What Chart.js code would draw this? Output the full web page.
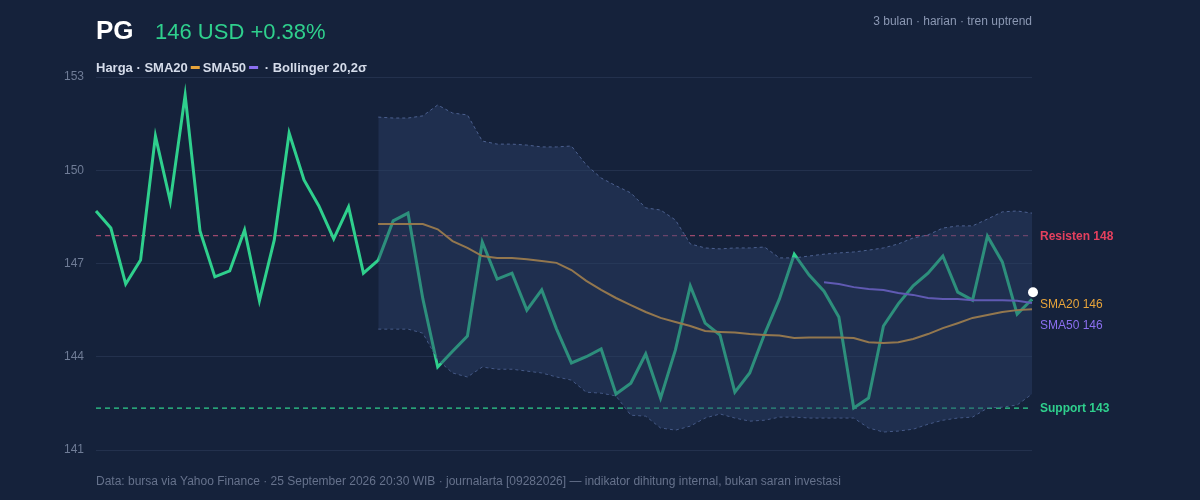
<!DOCTYPE html>
<html><head><meta charset="utf-8">
<script src="https://cdn.jsdelivr.net/npm/chart.js@4/dist/chart.umd.min.js"></script>
<style>
html,body{margin:0;background:#15223b;}
#wrap{position:relative;width:1200px;height:500px;}
</style></head>
<body><div id="wrap"><canvas id="c" width="1200" height="500"></canvas></div>
<script>
const harga = [148.69,148.14,146.34,147.11,151.1,149.0,152.42,148.05,146.57,146.76,148.08,145.8,147.76,151.2,149.69,148.85,147.79,148.82,146.69,147.11,
  148.37,148.62,145.86,143.67,144.18,144.67,147.69,146.5,146.69,145.5,146.15,144.89,143.8,144.0,144.25,142.8,143.15,144.09,142.67,144.22,
  146.28,145.08,144.7,142.86,143.48,144.73,145.86,147.3,146.63,146.11,145.28,142.35,142.67,144.99,145.7,146.28,146.69,147.24,146.08,145.82,
  147.88,147.05,145.37,145.85];
const sma20 = [null,null,null,null,null,null,null,null,null,null,null,null,null,null,null,null,null,null,null,
  148.27,148.27,148.27,148.27,148.1,147.72,147.5,147.24,147.18,147.18,147.14,147.08,147.02,146.79,146.44,146.15,145.89,145.66,145.44,145.25,145.12,
  144.99,144.83,144.8,144.78,144.73,144.7,144.68,144.6,144.62,144.62,144.62,144.6,144.47,144.44,144.47,144.57,144.73,144.92,145.08,145.25,
  145.34,145.44,145.5,145.53];
const sma50 = [null,null,null,null,null,null,null,null,null,null,null,null,null,null,null,null,null,null,null,null,
  null,null,null,null,null,null,null,null,null,null,null,null,null,null,null,null,null,null,null,null,
  null,null,null,null,null,null,null,null,null,146.4,146.34,146.24,146.18,146.15,146.05,145.99,145.89,145.86,145.86,145.82,
  145.82,145.82,145.8,145.73];
const bbUpper = [null,null,null,null,null,null,null,null,null,null,null,null,null,null,null,null,null,null,null,
  151.71,151.68,151.68,151.75,152.1,151.84,151.78,150.94,150.84,150.84,150.81,150.75,150.75,150.78,150.17,149.75,149.5,149.27,148.79,148.72,148.4,
  147.63,147.5,147.47,147.5,147.5,147.53,147.18,147.18,147.24,147.3,147.34,147.37,147.43,147.5,147.63,147.82,147.92,148.14,148.21,148.21,
  148.43,148.66,148.69,148.62];
const bbLower = [null,null,null,null,null,null,null,null,null,null,null,null,null,null,null,null,null,null,null,
  144.89,144.89,144.89,144.76,143.9,143.48,143.35,143.67,143.6,143.6,143.54,143.48,143.35,143.25,142.86,142.83,142.74,142.12,142.09,141.71,141.64,
  141.77,142.03,142.16,142.03,141.93,141.96,142.06,142.06,142.03,142.03,142.03,142.03,141.71,141.58,141.61,141.67,141.83,141.96,142.03,142.06,
  142.35,142.38,142.45,142.8];
const resisten = 147.9, support = 142.35;
const yTicks = [141,144,147,150,153];
const labels = harga.map((_, i) => i);

const overlay = {
  id: 'overlay',
  beforeDatasetsDraw(chart) {
    const {ctx, chartArea: a, scales: {y}} = chart;
    ctx.save();
    ctx.setLineDash([5,4]); ctx.lineWidth = 1.2;
    [[resisten,'rgba(214,90,130,0.7)'],[support,'#2fd08d']].forEach(([v,c]) => {
      const py = y.getPixelForValue(v);
      ctx.strokeStyle = c; ctx.beginPath(); ctx.moveTo(a.left, py); ctx.lineTo(a.right, py); ctx.stroke();
    });
    ctx.restore();
  },
  afterDraw(chart) {
    const {ctx, chartArea: a, scales: {x, y}} = chart;
    ctx.save();
    ctx.textBaseline = 'alphabetic';
    ctx.font = 'bold 26px "Liberation Sans", Arial'; ctx.fillStyle = '#ffffff';
    ctx.fillText('PG', 96, 39);
    ctx.font = '22px "Liberation Sans", Arial'; ctx.fillStyle = '#2fd08d';
    ctx.fillText('146 USD +0.38%', 155, 39);
    ctx.font = '12px "Liberation Sans", Arial'; ctx.fillStyle = '#8b98b3'; ctx.textAlign = 'right';
    ctx.fillText('3 bulan · harian · tren uptrend', 1032, 25);
    ctx.textAlign = 'left';
    ctx.font = 'bold 13px "Liberation Sans", Arial'; ctx.fillStyle = '#d5dcea';
    let px = 96;
    const seg = (t) => { ctx.fillStyle = '#d5dcea'; ctx.fillText(t, px, 72); px += ctx.measureText(t).width; };
    const dash = (c) => { ctx.fillStyle = c; ctx.fillRect(px + 3, 66, 9, 3); px += 15; };
    seg('Harga · SMA20'); dash('#e8a43a'); seg('SMA50'); dash('#8b6ff0'); seg(' · Bollinger 20,2σ');
    ctx.font = '12px "Liberation Sans", Arial'; ctx.fillStyle = '#66728c';
    ctx.fillText('Data: bursa via Yahoo Finance · 25 September 2026 20:30 WIB · journalarta [09282026] — indikator dihitung internal, bukan saran investasi', 96, 485);
    ctx.font = 'bold 12px "Liberation Sans", Arial';
    ctx.fillStyle = '#e5405e'; ctx.fillText('Resisten 148', 1040, y.getPixelForValue(resisten) + 4);
    ctx.fillStyle = '#2fd08d'; ctx.fillText('Support 143', 1040, y.getPixelForValue(support) + 4);
    ctx.font = '12px "Liberation Sans", Arial';
    const last = harga.length - 1;
    ctx.fillStyle = '#e8a43a'; ctx.fillText('SMA20 146', 1040, y.getPixelForValue(sma20[last]) - 1);
    ctx.fillStyle = '#8b6ff0'; ctx.fillText('SMA50 146', 1040, y.getPixelForValue(sma20[last]) + 20);
    ctx.beginPath(); ctx.arc(x.getPixelForValue(last) + 1, y.getPixelForValue(harga[last]) - 7, 5, 0, Math.PI * 2);
    ctx.fillStyle = '#ffffff'; ctx.fill();
    ctx.restore();
  }
};

new Chart(document.getElementById('c'), {
  type: 'line',
  data: {
    labels: labels,
    datasets: [
      { data: bbUpper, borderColor: '#4d6190', borderWidth: 1, borderDash: [3,3], pointRadius: 0,
        fill: '+1', backgroundColor: 'rgba(44,64,104,0.45)', tension: 0 },
      { data: bbLower, borderColor: '#4d6190', borderWidth: 1, borderDash: [3,3], pointRadius: 0, fill: false },
      { data: sma50, borderColor: '#8b6ff0', borderWidth: 2, pointRadius: 0, fill: false },
      { data: sma20, borderColor: '#e8a43a', borderWidth: 2, pointRadius: 0, fill: false },
      { data: harga, borderColor: '#2fd08d', borderWidth: 3, pointRadius: 0, fill: false }
    ]
  },
  options: {
    responsive: false,
    animation: false,
    layout: { padding: { top: 77, right: 168, bottom: 50, left: 0 } },
    scales: {
      x: { display: false },
      y: {
        min: 141, max: 153,
        afterFit(s) { s.width = 96; },
        afterBuildTicks(s) { s.ticks = yTicks.map(v => ({ value: v })); },
        ticks: { color: '#6f7c96', font: { size: 12, family: 'Liberation Sans' }, padding: 12 },
        grid: { color: 'rgba(120,140,180,0.15)', drawTicks: false },
        border: { display: false }
      }
    },
    plugins: { legend: { display: false }, tooltip: { enabled: false } }
  },
  plugins: [overlay]
});
</script>
</body></html>
